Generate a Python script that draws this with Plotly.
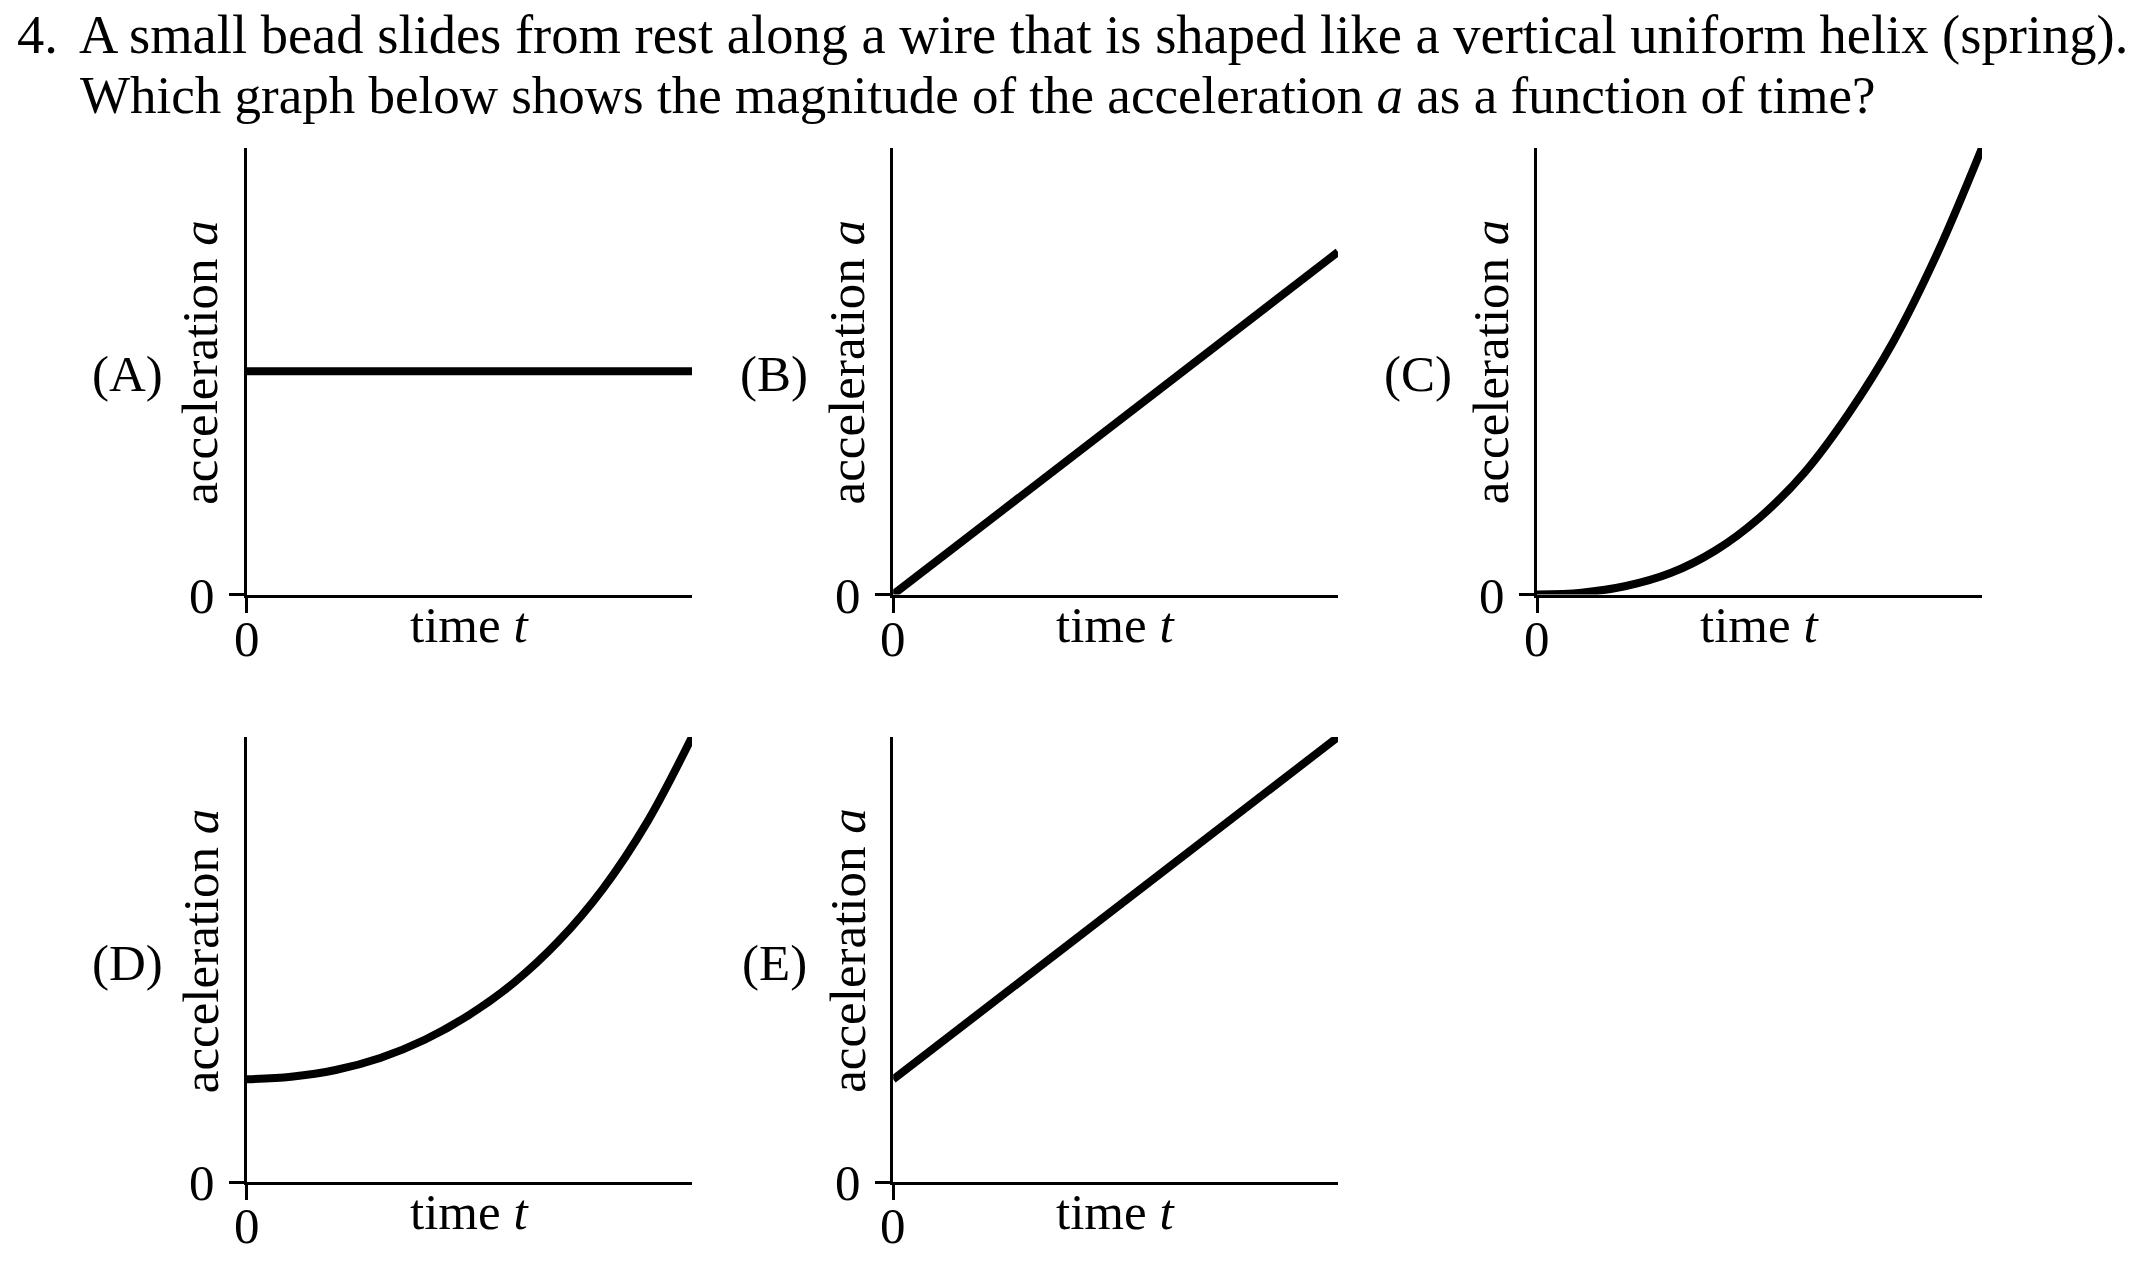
import plotly.graph_objects as go

# ---------------- data ----------------
panel_names = ["A", "B", "C", "D", "E"]
t_line = [0.0, 1.0]
t_curve = [0.0, 0.1, 0.2, 0.3, 0.4, 0.5, 0.6, 0.7, 0.8, 0.9, 1.0]
a_A = [0.5, 0.5]
a_B = [0.0, 0.767]
a_C = [0.0, 0.004, 0.019, 0.048, 0.098, 0.172, 0.272, 0.405, 0.565, 0.765, 1.0]
a_D = [0.231, 0.237, 0.252, 0.279, 0.320, 0.376, 0.448, 0.541, 0.659, 0.810, 1.0]
a_E = [0.231, 1.0]
question_line1_num = "4."
question_line1 = "A small bead slides from rest along a wire that is shaped like a vertical uniform helix (spring)."
question_line2 = "Which graph below shows the magnitude of the acceleration <i>a</i> as a function of time?"
y_title = "acceleration <i>a</i>"
x_title = "time <i>t</i>"
tick_label = "0"

series = {
    "A": (t_line, a_A, "linear"),
    "B": (t_line, a_B, "linear"),
    "C": (t_curve, a_C, "spline"),
    "D": (t_curve, a_D, "spline"),
    "E": (t_line, a_E, "linear"),
}

# ---------------- layout geometry (pixels) ----------------
W, H = 2148, 1270
# (left of plot = y-axis, right end, top, x-axis)
geom = {
    "A": (246.6, 692.0, 148.0, 594.5),
    "B": (893.2, 1338.0, 148.0, 594.5),
    "C": (1537.0, 1982.0, 148.0, 594.5),
    "D": (246.6, 692.0, 737.0, 1182.2),
    "E": (893.2, 1338.0, 737.0, 1182.2),
}
FONT = "Liberation Serif"
PSIZE = 51
HSIZE1 = 54.5
HSIZE2 = 53

fig = go.Figure()
layout = dict(
    width=W, height=H, margin=dict(l=0, r=0, t=0, b=0),
    paper_bgcolor="white", plot_bgcolor="white", showlegend=False,
    font=dict(family=FONT, color="black", size=PSIZE),
)
annotations = []

def px(x):
    return x / W

def py(y):
    return 1 - y / H

for i, name in enumerate(panel_names):
    k = "" if i == 0 else str(i + 1)
    x0, x1, yt, yb = geom[name]
    tx, ty, shape = series[name]
    fig.add_trace(go.Scatter(
        x=tx, y=ty, mode="lines", line=dict(color="black", width=8, shape=shape),
        xaxis="x" + k, yaxis="y" + k, cliponaxis=False, hoverinfo="skip",
    ))
    axis_common = dict(
        range=[0, 1], showgrid=False, zeroline=False, showline=True,
        linecolor="black", linewidth=3, ticks="outside", tickvals=[0],
        tickwidth=3, ticklen=15, tickcolor="black", showticklabels=False,
        fixedrange=True,
    )
    layout["xaxis" + k] = dict(axis_common, domain=[px(x0), px(x1)], anchor="y" + k)
    layout["yaxis" + k] = dict(axis_common, domain=[py(yb), py(yt)], anchor="x" + k)

    ymid = (yt + yb) / 2
    annotations += [
        dict(text="(" + name + ")", x=px(x0 - 119), y=py(ymid + 3), xref="paper", yref="paper",
             xanchor="center", yanchor="middle", showarrow=False, font=dict(size=PSIZE)),
        dict(text=y_title, x=px(x0 - 46), y=py(ymid - 9), xref="paper", yref="paper",
             xanchor="center", yanchor="middle", textangle=-90, showarrow=False, font=dict(size=PSIZE)),
        dict(text=tick_label, x=px(x0 - 45), y=py(yb + 1), xref="paper", yref="paper",
             xanchor="center", yanchor="middle", showarrow=False, font=dict(size=PSIZE)),
        dict(text=tick_label, x=px(x0), y=py(yb + 44), xref="paper", yref="paper",
             xanchor="center", yanchor="middle", showarrow=False, font=dict(size=PSIZE)),
        dict(text=x_title, x=px((x0 + x1) / 2), y=py(yb + 30), xref="paper", yref="paper",
             xanchor="center", yanchor="middle", showarrow=False, font=dict(size=PSIZE)),
    ]

annotations += [
    dict(text=question_line1_num, x=px(15), y=py(35), xref="paper", yref="paper",
         xanchor="left", yanchor="middle", showarrow=False, font=dict(size=HSIZE1)),
    dict(text=question_line1, x=px(77), y=py(35), xref="paper", yref="paper",
         xanchor="left", yanchor="middle", showarrow=False, font=dict(size=HSIZE1)),
    dict(text=question_line2, x=px(78), y=py(95), xref="paper", yref="paper",
         xanchor="left", yanchor="middle", showarrow=False, font=dict(size=HSIZE2)),
]
layout["annotations"] = annotations
fig.update_layout(**layout)
fig.write_html("out.html", config={"displayModeBar": False})
